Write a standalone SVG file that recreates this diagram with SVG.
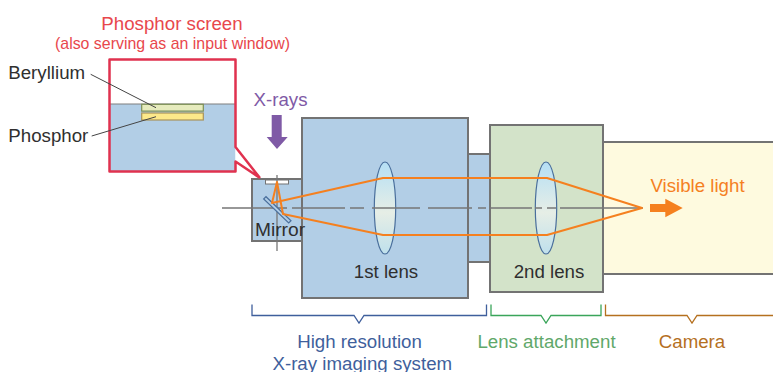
<svg xmlns="http://www.w3.org/2000/svg" width="773" height="372" viewBox="0 0 773 372">
<defs>
<linearGradient id="lens" x1="0" y1="0" x2="0" y2="1">
<stop offset="0" stop-color="#b5dff5"/><stop offset="0.55" stop-color="#e6eee6"/><stop offset="1" stop-color="#bfe0ec"/>
</linearGradient>
</defs>
<style>
text{font-family:"Liberation Sans",Arial,sans-serif;font-size:18.7px;text-anchor:middle}
.box{stroke:#737373;stroke-width:2}
.blue{fill:#b2cee6}
.lens{fill:url(#lens);stroke:#4a6f9c;stroke-width:1.2}
.axis{fill:none;stroke:#777;stroke-width:1.3}
.ray{fill:none;stroke:#f5801f;stroke-width:2;stroke-linejoin:round}
.lead{fill:none;stroke:#444;stroke-width:1}
.brace{fill:none;stroke-width:1.3}
.dark{fill:#2f2f2f}
</style>
<g id="camera"><rect class="box" x="602" y="142" width="173" height="132" fill="#fefadf"/></g>
<g id="coupler"><rect class="box blue" x="467" y="154" width="24" height="108"/></g>
<g id="mirror-housing"><rect class="box blue" x="252" y="179" width="51" height="62"/></g>
<g id="first-lens"><rect class="box blue" x="302" y="118" width="166" height="180"/>
<ellipse class="lens" cx="385" cy="208" rx="10.700" ry="46"/>
<text class="dark" x="386" y="278">1st lens</text></g>
<g id="second-lens"><rect class="box" x="490" y="125" width="113" height="167" fill="#d3e3c9"/>
<ellipse class="lens" cx="546" cy="208" rx="10.700" ry="46"/>
<text class="dark" x="549" y="278">2nd lens</text></g>
<g id="window"><rect x="265.500" y="180" width="23" height="4" fill="#fff" stroke="#737373" stroke-width="1"/></g>
<g id="connectors">
<path class="axis" d="M222 208H287M292 208H345M350 208H364M372 208H420M428 208H472M478 208H486M490 208H532M535 208H542M547 208H556M560 208H643"/>
<path class="axis" d="M277 175V251"/>
<path d="M263.700 199L266 196.700L291 220.700L288.700 223Z" fill="#b2cee6" stroke="#4a6f9c" stroke-width="1.200"/>
<path class="ray" d="M642 208L547 178H383L272 203L277 182L283 214L383 235H547L642 208Z"/>
</g>
<g id="visible-light"><text x="697.500" y="192" fill="#f5801f">Visible light</text>
<path d="M650 204H665.300V198.700L682.700 208L665.300 217.300V212H650Z" fill="#f5801f"/></g>
<g id="xrays"><text x="280.500" y="106" fill="#7f5aa6">X-rays</text>
<path d="M271.700 115H281.700V137H287.700L277 149L266.700 137H271.700Z" fill="#7f5aa6"/></g>
<g id="mirror-label"><text class="dark" x="280" y="236" style="font-size:19.200px">Mirror</text></g>
<g id="screen-detail">
<rect x="109.500" y="104" width="126" height="67.500" fill="#b2cee6"/>
<path d="M109 104H236" stroke="#7f7f7f" stroke-width="1.200"/>
<rect x="141.700" y="104.300" width="61.600" height="6.800" fill="#e6ebbd" stroke="#7d8f55" stroke-width="1.200"/>
<rect x="141.700" y="113" width="61.600" height="7" fill="#fde98a" stroke="#a8935a" stroke-width="1.200"/>
<path d="M235.500 147L260 178L235.500 161.500Z" fill="#fff"/>
<path d="M260 178L235.500 147V59.500H109.500V171.500H235.500V161.500L260 178" fill="none" stroke="#e0324f" stroke-width="2.500" stroke-linejoin="round"/>
<path class="lead" d="M90.700 74.300L156 107.700"/>
<path class="lead" d="M91.700 136L156 116.700"/>
<text class="dark" x="46.700" y="78.500">Beryllium</text>
<text class="dark" x="48.300" y="141.700">Phosphor</text>
<text x="172" y="30" fill="#e8474c">Phosphor screen</text>
<text x="172.500" y="48.500" fill="#e8474c" style="font-size:17px" textLength="235" lengthAdjust="spacingAndGlyphs">(also serving as an input window)</text>
</g>
<g id="braces">
<path class="brace" stroke="#3f5f9c" d="M252 304.500V315.500H354L359 323L364 315.500H486.500V304.500"/>
<path class="brace" stroke="#3aa55a" d="M491 304.500V315.500H541L546 323L551 315.500H601V304.500"/>
<path class="brace" stroke="#b5701f" d="M605.500 304.500V315.500H687L692 323L697 315.500H773"/>
<text x="359.500" y="347.500" fill="#3f5f9c">High resolution</text>
<text x="362.300" y="369.500" fill="#3f5f9c">X-ray imaging system</text>
<text x="546.500" y="347.500" fill="#5fa86a">Lens attachment</text>
<text x="692" y="347.500" fill="#b5701f">Camera</text>
</g>
</svg>
